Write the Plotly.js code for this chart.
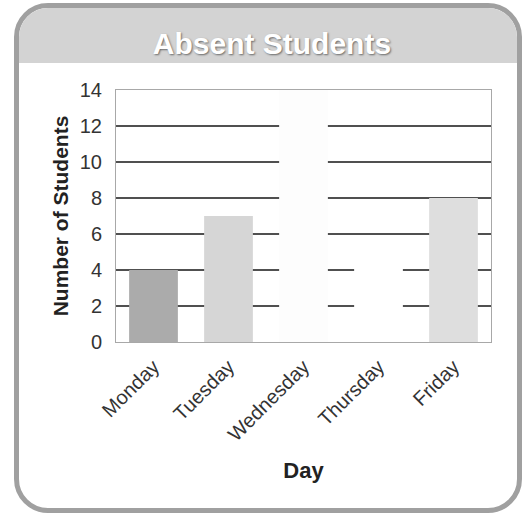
<!DOCTYPE html>
<html>
<head>
<meta charset="utf-8">
<script src="https://cdn.plot.ly/plotly-3.0.1.min.js"></script>
<style>
  html, body { margin: 0; padding: 0; background: #ffffff; }
  #wrap { position: relative; width: 525px; height: 515px; overflow: hidden; }
  #frame {
    position: absolute; left: 14px; top: 3px; width: 498px; height: 500px;
    border: 5px solid #a0a0a0; border-radius: 34px; background: #ffffff;
    overflow: hidden; box-sizing: content-box;
  }
  #band { position: absolute; left: 0; top: 0; right: 0; height: 55px; background: #d3d3d3; }
  #chart { position: absolute; left: 0; top: 0; width: 525px; height: 515px; }
</style>
</head>
<body>
<div id="wrap">
  <div id="frame"><div id="band"></div></div>
  <div id="chart"></div>
</div>
<script>
const days = ["Monday", "Tuesday", "Wednesday", "Thursday", "Friday"];
const absent = [4, 7, 14, 5, 8];
const barColors = ["#ababab", "#d6d6d6", "#fdfdfd", "#ffffff", "#dedede"];
const yTicks = [0, 2, 4, 6, 8, 10, 12, 14];

const FONT = '"Liberation Sans", Arial, sans-serif';

const data = [{
  type: "bar",
  x: days,
  y: absent,
  marker: { color: barColors, line: { width: 0 } },
  hoverinfo: "x+y"
}];

const layout = {
  width: 525, height: 515,
  margin: { l: 116, r: 34, t: 90, b: 173 },
  paper_bgcolor: "rgba(0,0,0,0)",
  plot_bgcolor: "#ffffff",
  bargap: 0.35,
  showlegend: false,
  title: {
    text: "<b>Absent Students</b>",
    xref: "container", x: 0.518, xanchor: "center",
    yref: "container", y: 0.916, yanchor: "middle",
    font: { family: FONT, size: 30, color: "#ffffff", shadow: "1px 1px 2px #6a6a6a" }
  },
  xaxis: {
    type: "category",
    tickangle: -45,
    tickfont: { family: FONT, size: 20, color: "#333333" },
    ticklabelstandoff: 4,
    showline: true, linecolor: "#a8a8a8", linewidth: 1, mirror: true,
    showgrid: false, ticks: "",
    title: { text: "<b>Day</b>", standoff: 18, font: { family: FONT, size: 22, color: "#222222" } }
  },
  yaxis: {
    range: [0, 14],
    tickvals: yTicks,
    ticktext: yTicks.map(String),
    tickfont: { family: FONT, size: 20, color: "#333333" },
    ticklabelstandoff: 9,
    showline: true, linecolor: "#a8a8a8", linewidth: 1, mirror: true,
    showgrid: true, gridcolor: "#505050", gridwidth: 1.2,
    zeroline: false, ticks: "",
    title: { text: "<b>Number of Students</b>", standoff: 5, font: { family: FONT, size: 21, color: "#222222" } }
  }
};

Plotly.newPlot("chart", data, layout, { displayModeBar: false, staticPlot: true });
</script>
</body>
</html>
